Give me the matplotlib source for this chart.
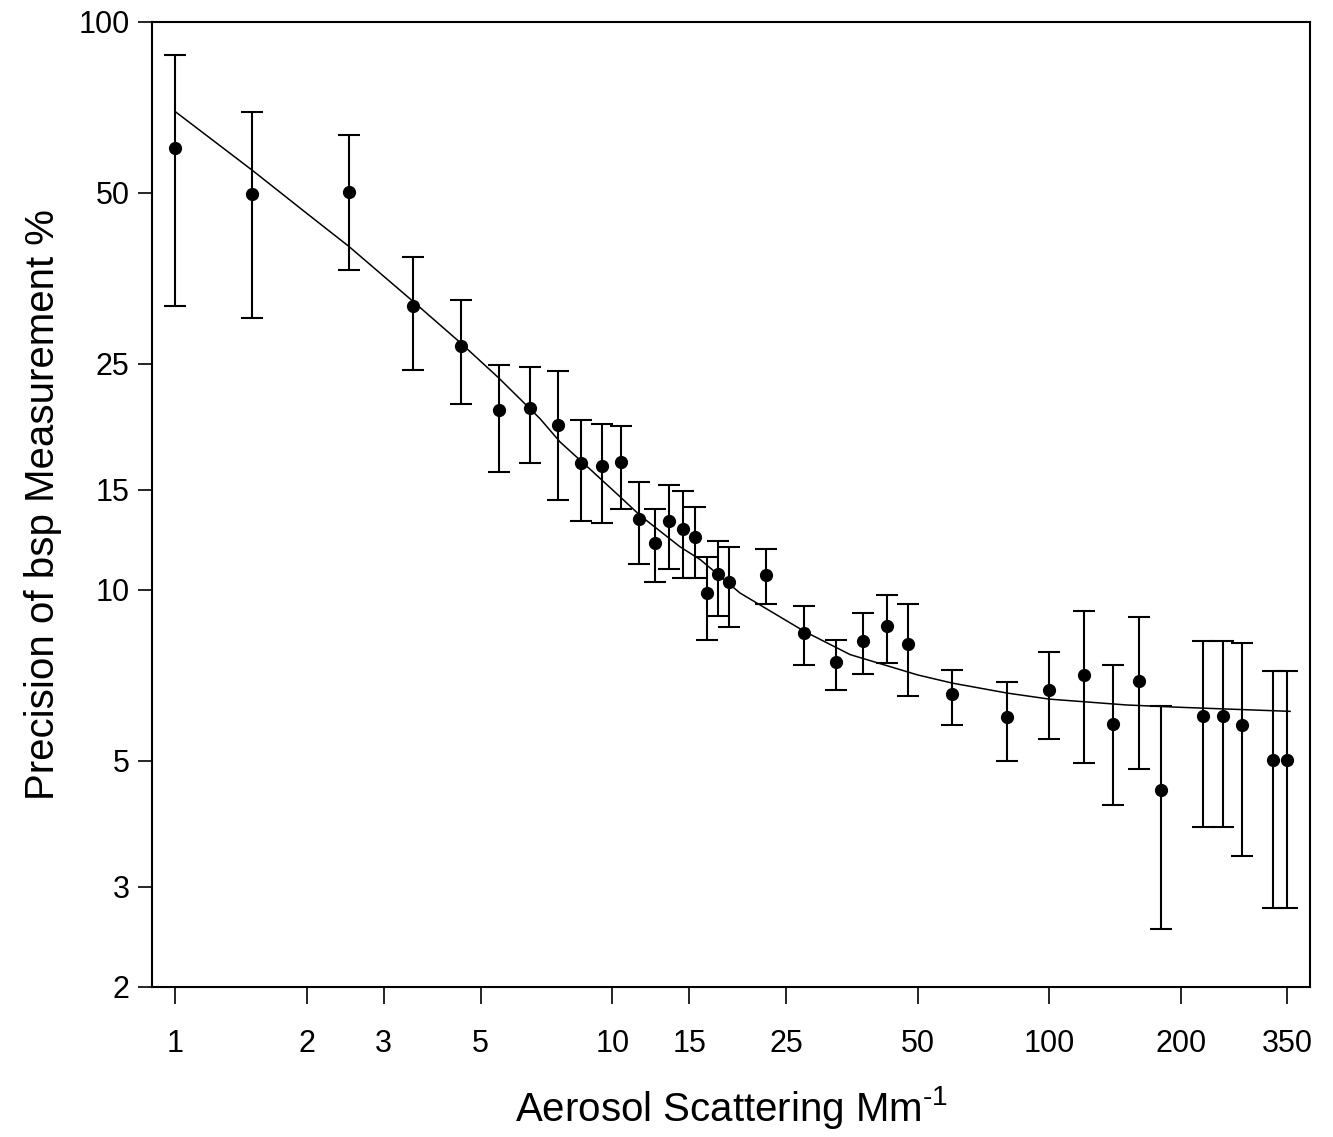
import matplotlib
matplotlib.use('Agg')
import matplotlib.pyplot as plt
import numpy as np

plt.rcParams['font.family'] = ['Liberation Sans', 'DejaVu Sans']
plt.rcParams['mathtext.fontset'] = 'custom'
plt.rcParams['mathtext.rm'] = 'Liberation Sans'

# aerosol scattering (Mm-1) and precision (%)
scatter = [1, 1.5, 2.5, 3.5, 4.5, 5.5, 6.5, 7.5, 8.5, 9.5, 10.5, 11.5, 12.5,
           13.5, 14.5, 15.5, 16.5, 17.5, 18.5, 22.5, 27.5, 32.5, 37.5, 42.5,
           47.5, 60, 80, 100, 120, 140, 160, 180, 225, 250, 275, 325, 350]
precision = [60.0, 49.8, 50.2, 31.6, 26.9, 20.7, 20.9, 19.5, 16.7, 16.5, 16.8,
             13.3, 12.1, 13.2, 12.8, 12.4, 9.87, 10.66, 10.3, 10.6, 8.41, 7.45,
             8.13, 8.62, 8.02, 6.55, 5.98, 6.65, 7.09, 5.80, 6.92, 4.44, 6.0,
             6.0, 5.77, 5.01, 5.01]
err_high = [87.5, 69.2, 63.2, 38.5, 32.4, 24.9, 24.7, 24.3, 19.9, 19.6, 19.4,
            15.5, 13.9, 15.3, 14.9, 14.0, 11.4, 12.2, 11.9, 11.8, 9.37, 8.17,
            9.10, 9.79, 9.45, 7.23, 6.89, 7.78, 9.16, 7.37, 8.94, 6.25, 8.11,
            8.11, 8.06, 7.20, 7.20]
err_low = [31.6, 30.1, 36.5, 24.4, 21.2, 16.1, 16.7, 14.4, 13.2, 13.1, 13.9,
           11.1, 10.3, 10.9, 10.5, 10.5, 8.17, 9.01, 8.59, 9.45, 7.38, 6.67,
           7.11, 7.43, 6.51, 5.78, 4.99, 5.46, 4.96, 4.18, 4.83, 2.53, 3.82,
           3.82, 3.40, 2.75, 2.75]

# fitted curve, read at points along the line
fit_x = [1, 1.5, 2, 2.5, 3.5, 4.5, 5.5, 6.84, 7.6, 8.9, 10.4, 11.6, 14.3,
         15.9, 19.6, 27.5, 35, 50, 60, 80, 100, 150, 200, 355]
fit_y = [69.5, 54.8, 46.0, 40.2, 32.2, 27.2, 23.6, 20.0, 18.2, 16.3, 14.6,
         13.5, 11.9, 11.3, 9.87, 8.45, 7.69, 7.08, 6.85, 6.58, 6.42, 6.27,
         6.21, 6.11]

x_ticks = [1, 2, 3, 5, 10, 15, 25, 50, 100, 200, 350]
y_ticks = [2, 3, 5, 10, 15, 25, 50, 100]

fig = plt.figure(figsize=(13.33, 11.37), dpi=100)
ax = fig.add_axes([0.114, 0.132, 0.869, 0.849])

y = np.array(precision)
yerr = [y - np.array(err_low), np.array(err_high) - y]
ax.errorbar(scatter, precision, yerr=yerr, fmt='o', color='black',
            markersize=8.5, elinewidth=1.5, capsize=8, capthick=1.5)
ax.plot(fit_x, fit_y, color='black', linewidth=1.1)

ax.set_xscale('log')
ax.set_yscale('log')
ax.set_xlim(0.886, 395)
ax.set_ylim(2, 100)

ax.set_xticks(x_ticks)
ax.set_xticklabels([str(t) for t in x_ticks])
ax.set_yticks(y_ticks)
ax.set_yticklabels([str(t) for t in y_ticks])
ax.minorticks_off()
ax.tick_params(axis='x', direction='out', length=12, width=1.2, pad=18,
               labelsize=22)
ax.tick_params(axis='y', direction='out', length=10, width=1.2, pad=6,
               labelsize=22)

for s in ax.spines.values():
    s.set_linewidth(1.5)

ax.set_xlabel('Aerosol Scattering Mm$^{\\text{-1}}$', fontsize=29, labelpad=18)
ax.set_ylabel('Precision of bsp Measurement %', fontsize=29, labelpad=12)

plt.savefig('out.png', dpi=100)
